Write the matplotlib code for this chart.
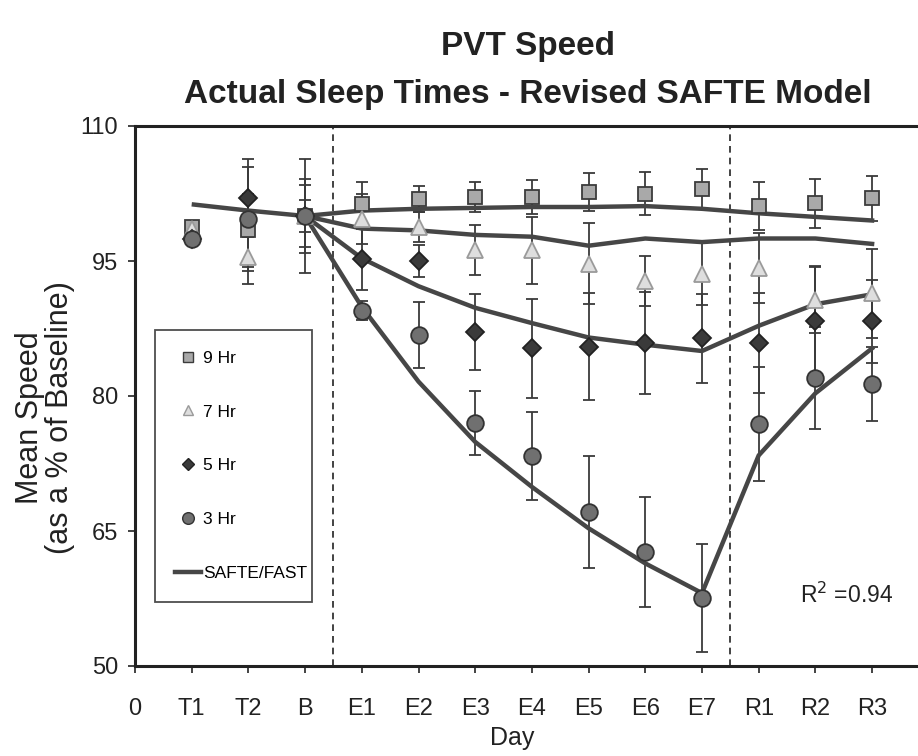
import matplotlib
matplotlib.use("Agg")
import matplotlib.pyplot as plt
from matplotlib.lines import Line2D

plt.rcParams['font.family'] = ['Liberation Sans Narrow', 'Liberation Sans', 'DejaVu Sans']

# x positions / labels
day_labels = ['0', 'T1', 'T2', 'B', 'E1', 'E2', 'E3', 'E4', 'E5', 'E6', 'E7', 'R1', 'R2', 'R3']
obs_x = list(range(1, 14))      # T1 .. R3
model_x = list(range(3, 14))    # B .. R3
shared_x = [1, 2, 3]            # T1, T2, B

# observed means (% of baseline), T1 .. R3
hr9 = [98.8, 98.4, 100, 101.3, 101.9, 102.1, 102.1, 102.7, 102.5, 103.0, 101.1, 101.4, 102.0]
hr7 = [98.6, 95.4, 100, 99.7, 98.8, 96.2, 96.2, 94.7, 92.8, 93.6, 94.2, 90.7, 91.4]
hr5 = [97.4, 102.0, 100, 95.2, 95.0, 87.1, 85.3, 85.5, 85.9, 86.4, 85.9, 88.3, 88.3]
hr3 = [97.4, 99.7, 100, 89.5, 86.8, 77.0, 73.3, 67.1, 62.7, 57.6, 76.9, 82.0, 81.3]

# standard errors
err9 = [0, 4.1, 1.8, 2.5, 1.4, 1.7, 1.9, 2.1, 2.4, 2.2, 2.7, 2.7, 2.5]
err7 = [0, 3.0, 3.4, 2.8, 1.7, 2.8, 3.7, 4.5, 2.8, 3.5, 3.9, 3.7, 4.9]
err5 = [0, 4.3, 4.1, 3.4, 1.8, 4.2, 5.5, 5.9, 5.7, 4.9, 5.6, 6.0, 4.6]
err3 = [0, 5.8, 6.3, 1.1, 3.7, 3.6, 4.9, 6.2, 6.1, 6.0, 6.3, 5.7, 4.1]

# SAFTE/FAST model predictions
model_shared = [101.3, 100.6, 100]
model9 = [100, 100.6, 100.8, 100.9, 101.0, 101.0, 101.1, 100.8, 100.3, 99.9, 99.5]
model7 = [100, 98.6, 98.4, 97.9, 97.7, 96.7, 97.5, 97.1, 97.5, 97.5, 96.9]
model5 = [100, 95.3, 92.2, 89.8, 88.1, 86.5, 85.7, 85.0, 87.8, 90.2, 91.3]
model3 = [100, 89.9, 81.6, 74.9, 69.9, 65.3, 61.4, 58.1, 73.4, 80.3, 85.3]

fig = plt.figure(figsize=(9.18, 7.56), dpi=100, facecolor='white')
ax = fig.add_axes([135 / 918, 1 - 666 / 756, (918 - 135) / 918, 540 / 756])

line_col = '#464646'
err_col = '#3a3a3a'

series = [
    (hr9, err9, 's', 10, '#a9a9a9', '#3c3c3c', '9 Hr'),
    (hr7, err7, '^', 11, '#dedede', '#9a9a9a', '7 Hr'),
    (hr5, err5, 'D', 9, '#3a3a3a', '#222222', '5 Hr'),
    (hr3, err3, 'o', 12, '#707070', '#333333', '3 Hr'),
]

# error bars
for vals, errs, *_ in series:
    ax.errorbar(obs_x, vals, yerr=errs, fmt='none', ecolor=err_col,
                elinewidth=1.3, capsize=4, capthick=1.3, zorder=2)

# model lines
ax.plot(shared_x, model_shared, color=line_col, lw=3.2, zorder=3, solid_capstyle='butt')
for m in [model9, model7, model5, model3]:
    ax.plot(model_x, m, color=line_col, lw=3.2, zorder=3, solid_joinstyle='round')

# markers
for vals, errs, mk, ms, fc, ec, lab in series:
    ax.plot(obs_x, vals, linestyle='none', marker=mk, markersize=ms,
            markerfacecolor=fc, markeredgecolor=ec, markeredgewidth=1.3, zorder=4)

# phase separators
for xv in [3.5, 10.5]:
    ax.axvline(xv, color='#222222', lw=1.2, dashes=(4, 3), zorder=1)

ax.set_xlim(0, (918 - 135) / 56.7)
ax.set_ylim(50, 110)
ax.set_yticks([50, 65, 80, 95, 110])
ax.set_xticks(range(len(day_labels)))
ax.set_xticklabels(day_labels)
ax.tick_params(axis='both', direction='out', length=5, width=1.2, labelsize=17,
               colors='#222222')
ax.tick_params(axis='y', pad=7)
ax.tick_params(axis='x', pad=18)

for side in ['left', 'bottom', 'top']:
    ax.spines[side].set_linewidth(2.2)
    ax.spines[side].set_color('#222222')
ax.spines['right'].set_visible(False)

ax.text(11.72, 57.9, r'R$^2$ =0.94', fontsize=16.5, color='#222222', va='center', ha='left')

# legend
handles = [Line2D([], [], linestyle='none', marker=mk, markersize=ms * 0.7,
                  markerfacecolor=fc, markeredgecolor=ec, markeredgewidth=1.0)
           for vals, errs, mk, ms, fc, ec, lab in series]
handles.append(Line2D([], [], color=line_col, lw=3.2))
labels = [s[6] for s in series] + ['SAFTE/FAST']
leg = fig.legend(handles, labels, loc='upper left',
                 bbox_to_anchor=(155 / 918, 1 - 330 / 756, 157 / 918, 0.0),
                 mode='expand', fontsize=12.5, frameon=True, fancybox=False,
                 edgecolor='#222222', labelspacing=2.23, handlelength=1.45,
                 handletextpad=0.15, borderpad=1.18, borderaxespad=0)
leg.get_frame().set_linewidth(1.3)

# titles and axis labels
fig.text(528 / 918, 1 - 47 / 756, 'PVT Speed', fontsize=24, fontweight='bold',
         ha='center', va='center', color='#222222')
fig.text(528 / 918, 1 - 94 / 756, 'Actual Sleep Times - Revised SAFTE Model', fontsize=24,
         fontweight='bold', ha='center', va='center', color='#222222')
fig.text(45 / 918, 1 - 418 / 756, 'Mean Speed\n(as a % of Baseline)', fontsize=22,
         rotation=90, ha='center', va='center', multialignment='center',
         color='#222222', linespacing=1.0)
fig.text(512 / 918, 1 - 738 / 756, 'Day', fontsize=18, ha='center', va='center',
         color='#222222')

fig.savefig('out.png', dpi=100, facecolor='white')
